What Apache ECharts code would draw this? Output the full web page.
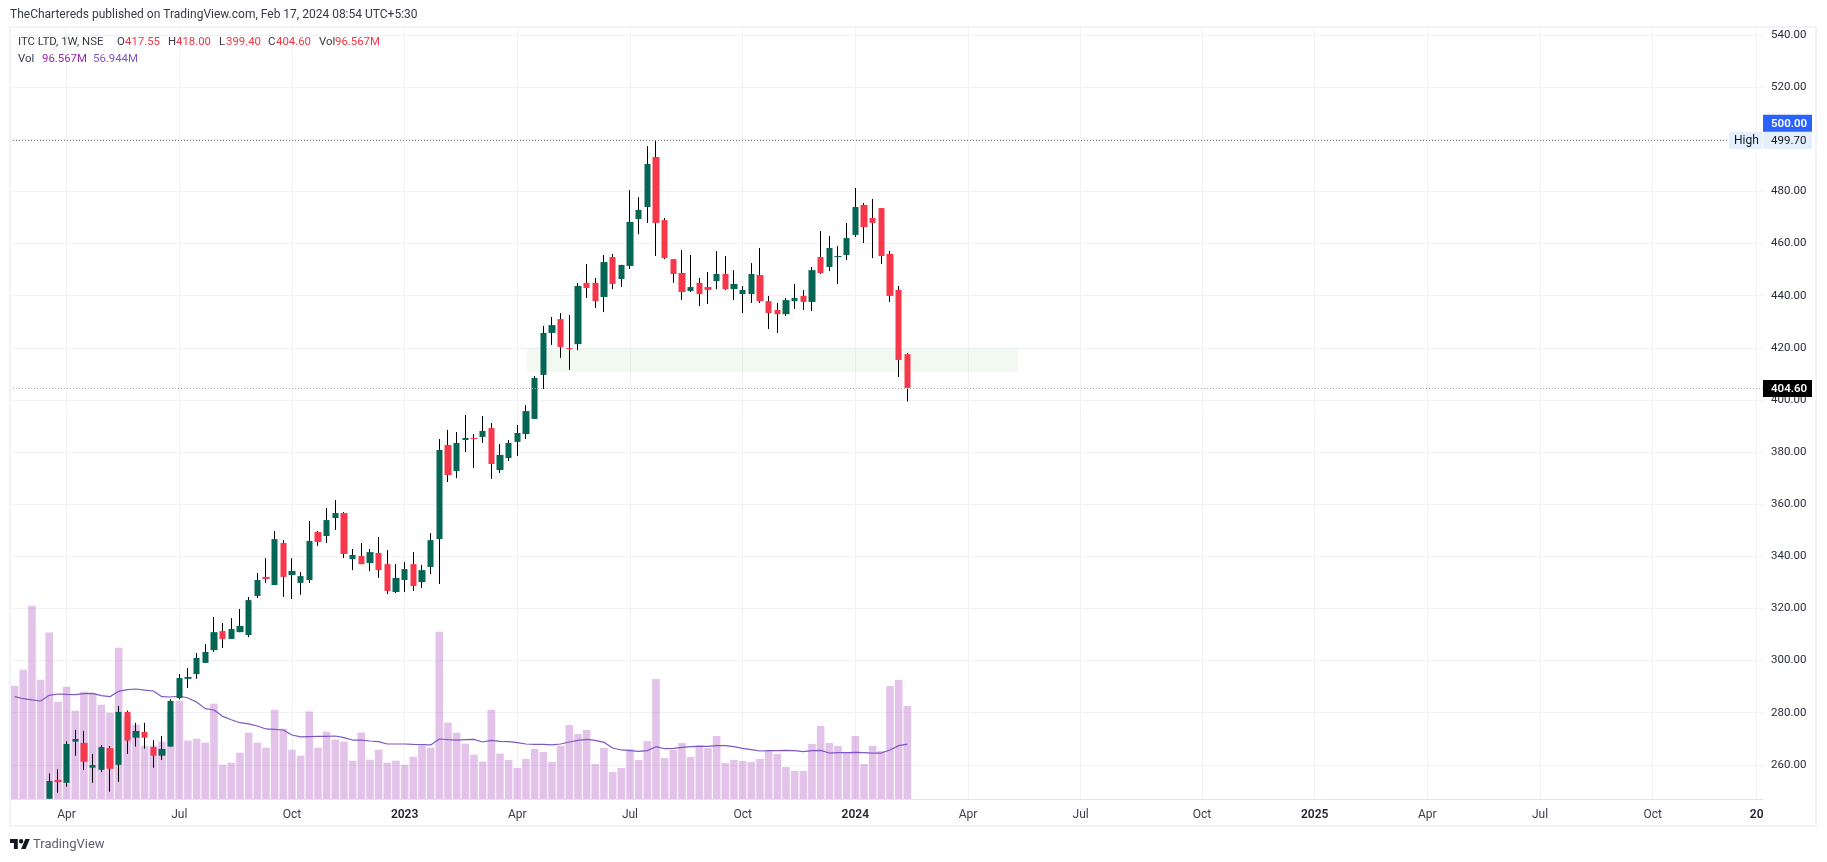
<!DOCTYPE html>
<html><head><meta charset="utf-8">
<script src="https://cdn.jsdelivr.net/npm/echarts@6/dist/echarts.min.js"></script>
<style>html,body{margin:0;padding:0;background:#fff}#c{width:1827px;height:862px}</style>
</head><body><div id="c"></div>
<script>
const opens=[null,null,null,null,247,254.2,253.1,268.9,268.4,258.9,
258.1,266.4,260.0,280.3,270.4,272.6,266.8,263.5,267.0,285.6,
293.0,294.8,299.1,304.0,311.3,308.3,310.9,309.8,324.8,332.1,
329.0,345.1,332.8,329.8,330.9,349.3,347.8,354.7,356.6,338.9,
340.1,337.4,341.3,337.0,326.3,330.9,337.0,330.1,335.9,346.6,
382.7,372.7,384.6,385.4,385.8,389.2,373.1,377.7,383.9,386.9,
392.7,409.6,425.7,431.0,419.9,421.4,444.9,444.9,439.5,454.8,
446.4,451.4,469.4,474.0,493.2,469.0,454.0,448.7,441.8,444.9,
443.3,445.6,448.3,442.5,440.6,440.6,447.9,437.9,434.5,432.9,
437.9,439.9,437.6,454.8,451.0,454.8,455.6,463.3,474.8,469.8,
473.6,456.0,442.2,417.55];
const closes=[null,null,null,null,253.8,253.4,268.0,269.9,261.2,259.9,
266.8,258.5,280.3,269.3,273.0,270.4,263.5,266.1,284.5,293.3,
293.7,301.0,303.3,310.9,308.3,312.1,313.3,323.2,330.9,331.3,
346.6,332.1,334.4,332.4,345.9,345.5,353.9,356.6,340.9,340.5,
337.0,341.6,334.7,326.7,331.7,335.1,328.6,334.7,346.2,380.8,
371.2,383.5,385.4,385.0,388.1,375.4,378.9,383.5,387.3,395.7,
408.4,425.7,428.7,420.3,419.5,443.7,442.9,437.9,452.9,444.5,
451.8,468.3,472.9,490.5,467.9,454.4,448.3,441.4,443.3,440.6,
442.2,448.3,442.5,444.5,442.2,448.3,437.9,433.3,432.9,438.3,
439.1,437.6,449.8,448.7,458.3,455.2,462.1,474.0,466.3,467.9,
455.2,439.9,415.3,404.6];
const lows=[null,null,null,null,247,249.3,251.6,263.5,258.0,253.1,
257.2,249.7,253.5,264.2,267.0,266.2,258.9,261.9,267.0,285.1,
289.5,293.0,299.1,303.3,304.8,308.3,310.9,309.0,324.0,329.8,
329.0,324.4,323.6,325.2,329.8,344.0,345.1,350.1,339.3,334.7,
337.0,334.3,331.7,325.5,325.9,326.3,326.7,327.8,333.2,329.4,
368.5,370.0,380.0,373.9,383.5,369.7,372.0,376.6,378.5,385.0,
392.7,404.2,421.1,416.1,411.5,419.1,439.1,435.3,433.7,442.5,
443.3,450.2,463.6,467.9,455.2,454.0,444.9,438.3,441.4,436.0,
436.8,442.5,442.2,438.3,433.3,437.2,437.2,427.2,425.7,432.2,
434.9,434.5,434.1,448.3,449.4,444.5,453.7,462.5,460.2,454.4,
452.1,437.6,408.8,399.4];
const highs=[null,null,null,null,256.7,258.3,269.0,273.4,273.0,264.2,
267.6,267.2,282.6,280.8,276.1,276.1,269.5,271.1,285.1,294.8,
297.1,302.9,306.3,316.7,314.4,316.3,319.8,324.4,333.6,339.3,
349.7,346.2,339.3,334.0,353.5,349.7,358.5,361.6,357.0,342.8,
345.1,342.8,347.4,342.4,337.0,337.8,341.6,336.7,348.9,385.0,
388.5,387.7,394.2,386.9,393.8,391.1,383.1,384.6,390.4,398.0,
409.2,428.4,431.8,433.3,432.6,444.9,452.1,446.8,455.6,456.0,
451.8,480.5,477.8,497.4,499.7,469.8,454.0,457.5,455.6,446.8,
449.1,457.1,455.2,449.8,443.7,452.5,458.3,439.9,437.2,439.1,
444.5,442.2,451.0,464.8,462.9,459.0,467.9,481.3,475.6,477.1,
473.6,457.1,443.7,418.0];
const volumes=[117.6,134.2,200.7,123.9,172.7,101.0,116.6,91.7,111.4,109.3,
97.9,89.6,157.1,85.8,77.2,55.4,55.4,59.5,90.7,102.1,
60.6,62.6,58.5,99.0,35.6,37.7,48.1,68.9,58.5,53.3,
92.7,73.0,51.2,45.0,90.7,53.3,69.9,61.6,59.5,39.8,
68.9,40.8,51.2,37.7,39.8,35.6,43.9,55.4,53.3,173.7,
79.2,68.9,57.4,46.0,38.8,92.7,47.1,40.5,32.2,41.5,
51.9,48.8,38.4,55.0,76.8,67.5,71.6,36.3,52.9,28.0,
32.2,51.9,40.5,60.2,124.6,42.6,50.9,58.1,43.6,56.1,
52.9,65.4,37.4,40.5,39.4,38.4,41.5,49.8,46.7,33.2,
29.1,29.1,57.1,75.8,58.1,55.0,48.8,65.4,36.3,55.0,
49.8,117.3,123.5,96.567];
const volumeMA=[106.2,104.1,102.8,101.7,107.6,109.0,108.6,108.3,109.3,109.7,
107.3,106.2,111.8,113.5,114.2,113.1,112.1,106.2,105.9,106.9,
104.8,100.7,93.8,92.4,85.8,82.3,79.2,77.9,75.8,72.7,
72.3,71.6,66.4,64.4,64.7,65.0,65.0,65.4,63.7,61.2,
61.2,60.2,59.5,57.1,57.1,57.1,56.7,56.4,56.1,62.3,
61.6,61.2,61.6,61.9,59.2,60.9,59.9,59.5,58.5,57.1,
56.7,56.7,56.1,57.1,59.2,60.9,61.9,60.9,58.8,52.9,
50.9,50.2,49.5,50.2,54.3,52.2,52.6,53.6,54.3,54.7,
54.7,55.4,55.4,54.3,52.6,51.2,49.8,50.2,50.2,50.5,
50.2,49.1,50.2,50.5,47.7,48.1,48.1,48.4,48.1,47.7,
47.7,50.9,55.4,56.944];
const xTickIndex=[6,19,32,45,58,71,84,97,110,123,137,150,163,176,189,201];
const xTickLabels=['Apr','Jul','Oct','2023','Apr','Jul','Oct','2024','Apr','Jul','Oct','2025','Apr','Jul','Oct','20'];
const priceTicks=[260,280,300,320,340,360,380,400,420,440,460,480,500,520,540];
const zoneLow=410.8, zoneHigh=419.8, zoneFrom=59.12, zoneTo=115.77;
const highValue=499.70, closeValue=404.60, alertValue=500.00;

const FONT='Roboto, sans-serif';
const GREEN='#056656', RED='#f7374a', GRID='#f1f2f5';
const idx=opens.map((_,i)=>i).filter(i=>opens[i]!==null);
const wickData=idx.map(i=>[i,opens[i],closes[i],lows[i],highs[i]]);
const bodyData=idx.map(i=>[i,opens[i],closes[i],Math.min(opens[i],closes[i]),Math.max(opens[i],closes[i])]);
const labelMap={};xTickIndex.forEach((v,i)=>labelMap[v]=xTickLabels[i]);

const chart=echarts.init(document.getElementById('c'),null,{renderer:'canvas',width:1827,height:862});
chart.setOption({
  animation:false,backgroundColor:'#fff',
  grid:{left:10,right:64,top:28,bottom:63,containLabel:false},
  xAxis:{type:'value',min:-0.531,max:201.73,
    axisLine:{show:true,onZero:false,lineStyle:{color:'#e0e3eb',width:1}},
    axisTick:{show:false,customValues:xTickIndex},
    splitLine:{show:true,lineStyle:{color:GRID,width:1}},
    axisLabel:{customValues:xTickIndex,margin:10,fontFamily:FONT,fontSize:12,color:'#3a3e4a',
      formatter:v=>{const t=labelMap[Math.round(v)]||'';return /^20/.test(t)?'{y|'+t+'}':t;},
      rich:{y:{fontFamily:FONT,fontSize:12,fontWeight:600,color:'#1e222d'}}}},
  yAxis:[
   {type:'value',position:'right',min:246.89,max:542.69,
    axisLine:{show:false},axisTick:{show:false,customValues:priceTicks},
    splitLine:{show:true,lineStyle:{color:GRID,width:1}},
    axisLabel:{customValues:priceTicks,margin:8,padding:[2,0,0,0],fontFamily:FONT,fontSize:11.5,color:'#2a2e39',formatter:v=>v.toFixed(2)}},
   {type:'value',min:0,max:800.3,show:false,splitLine:{show:false}}
  ],
  series:[
   {name:'Volume',type:'bar',yAxisIndex:1,z:2,barWidth:7.6,silent:true,
    itemStyle:{color:'rgba(156,39,176,0.28)'},data:volumes.map((v,i)=>[i,v])},
   {name:'Volume MA',type:'line',yAxisIndex:1,z:3,symbol:'none',silent:true,
    lineStyle:{color:'#7e57c2',width:1.2},data:volumeMA.map((v,i)=>[i,v])},
   {name:'Wicks',type:'candlestick',yAxisIndex:0,z:4,barWidth:1,silent:true,clip:true,
    itemStyle:{color:'#000',color0:'#000',borderColor:'#000',borderColor0:'#000',borderWidth:1},
    data:wickData,
    markArea:{silent:true,z:1,itemStyle:{color:'rgba(76,175,80,0.08)',borderWidth:0},
      data:[[{coord:[zoneFrom,zoneHigh]},{coord:[zoneTo,zoneLow]}]]},
    markLine:{silent:true,symbol:'none',z:6,label:{show:false},
      data:[
       [{coord:[-0.531,highValue],lineStyle:{color:'#787b86',type:[1,2],width:1}},{coord:[197.6,highValue]}],
       [{coord:[-0.531,closeValue],lineStyle:{color:'#a8a8ac',type:[1,2],width:1}},{coord:[201.73,closeValue]}]
      ]}},
   {name:'ITC LTD',type:'candlestick',yAxisIndex:0,z:5,barWidth:7,silent:true,clip:true,
    itemStyle:{color:GREEN,color0:RED,borderColor:GREEN,borderColor0:RED,borderWidth:0},
    data:bodyData}
  ]
});

const yOf=v=>chart.convertToPixel({yAxisIndex:0},v);
function txt(text,x,y,color,opt){return {type:'text',z:20,style:Object.assign({text,x,y,fill:color,font:'11.4px '+FONT,textVerticalAlign:'middle'},opt||{})};}
function tag(y,fill,text,color,bold){return [
  {type:'rect',z:19,shape:{x:1763,y:y-8.5,width:49,height:17},style:{fill}},
  txt(text,1771,y+0.5,color,{font:(bold?'600 ':'')+'11.5px '+FONT})];}
const yHigh=yOf(highValue), yClose=yOf(closeValue);
const pieces=[
 ['ITC LTD, 1W, NSE',18,'#363a45'],['O',117,'#363a45'],['417.55',125,'#f23645'],['H',168,'#363a45'],['418.00',176,'#f23645'],
 ['L',219,'#363a45'],['399.40',226,'#f23645'],['C',268,'#363a45'],['404.60',276,'#f23645'],['Vol',319,'#363a45'],['96.567M',335,'#f23645']];
const pieces2=[['Vol',18,'#363a45'],['96.567M',42,'#9c27b0'],['56.944M',93,'#7e57c2']];
chart.setOption({graphic:[
 {type:'rect',z:18,shape:{x:10,y:27,width:1806,height:799},style:{fill:'none',stroke:'#f0f3fa',lineWidth:2}},
 txt('TheChartereds published on TradingView.com, Feb 17, 2024 08:54 UTC+5:30',10,14.5,'#363a45',{font:'12px '+FONT}),
 ...pieces.map(p=>txt(p[0],p[1],42.5,p[2])),
 ...pieces2.map(p=>txt(p[0],p[1],59.5,p[2])),
 ...tag(yOf(alertValue)-16,'#2962ff','500.00','#fff',true),
 ...tag(yHigh+0.5,'#e3effd','499.70','#131722',false),
 {type:'rect',z:19,shape:{x:1729,y:yHigh-8,width:33,height:17},style:{fill:'#e3effd'}},
 txt('High',1734,yHigh+1,'#131722',{font:'12px '+FONT}),
 ...tag(yClose+0.5,'#000','404.60','#fff',true),
 {type:'polygon',z:20,shape:{points:[[10,839],[17.8,839],[17.8,849],[13.9,849],[13.9,842.9],[10,842.9]]},style:{fill:'#131722'}},
 {type:'circle',z:20,shape:{cx:21.1,cy:841.2,r:2.2},style:{fill:'#131722'}},
 {type:'polygon',z:20,shape:{points:[[25.3,839],[29.8,839],[25.6,849],[21.1,849]]},style:{fill:'#131722'}},
 txt('TradingView',33,844.5,'#5d606b',{font:'13px '+FONT})
]});
</script></body></html>
